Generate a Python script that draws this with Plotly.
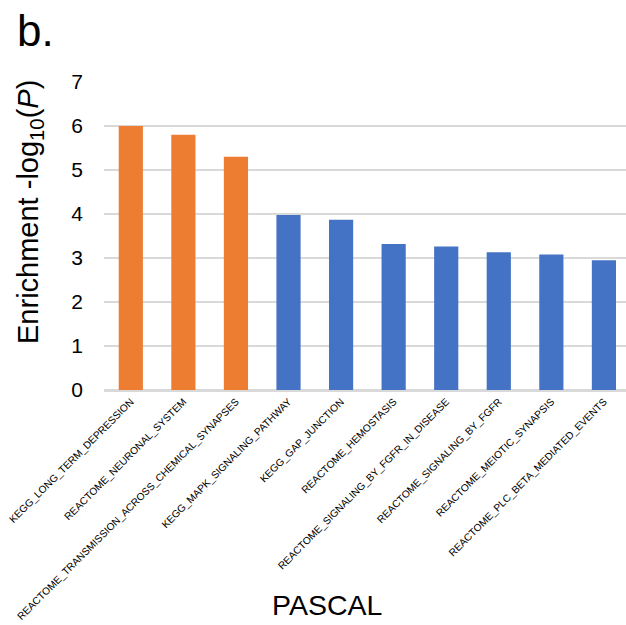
import plotly.graph_objects as go

categories = [
    "KEGG_LONG_TERM_DEPRESSION",
    "REACTOME_NEURONAL_SYSTEM",
    "REACTOME_TRANSMISSION_ACROSS_CHEMICAL_SYNAPSES",
    "KEGG_MAPK_SIGNALING_PATHWAY",
    "KEGG_GAP_JUNCTION",
    "REACTOME_HEMOSTASIS",
    "REACTOME_SIGNALING_BY_FGFR_IN_DISEASE",
    "REACTOME_SIGNALING_BY_FGFR",
    "REACTOME_MEIOTIC_SYNAPSIS",
    "REACTOME_PLC_BETA_MEDIATED_EVENTS",
]
values = [6.0, 5.8, 5.3, 3.98, 3.87, 3.32, 3.26, 3.13, 3.08, 2.95]
bar_colors = ["#ED7D31"] * 3 + ["#4472C4"] * 7
y_ticks = [0, 1, 2, 3, 4, 5, 6, 7]

FONT = "Liberation Sans, Arial, sans-serif"

W, H = 626, 625
L, R, T, B = 104, 0, 82, 235
PW, PH = W - L - R, H - T - B


def px_x(x):
    return (x - L) / PW


def px_y(y):
    return 1 - (y - T) / PH


fig = go.Figure(
    go.Bar(
        x=list(range(len(categories))),
        y=values,
        marker=dict(color=bar_colors, line=dict(width=0)),
        width=0.46,
    )
)

fig.update_layout(
    width=W,
    height=H,
    margin=dict(l=L, r=R, t=T, b=B, autoexpand=False),
    plot_bgcolor="white",
    paper_bgcolor="white",
    showlegend=False,
    font=dict(family=FONT, color="#000000"),
    xaxis=dict(
        range=[-0.51, 9.42],
        tickmode="array",
        tickvals=list(range(len(categories))),
        ticktext=categories,
        tickangle=-45,
        tickfont=dict(size=10.2, family=FONT, color="#000000"),
        ticklabeloverflow="allow",
        showgrid=False,
        showline=True,
        linecolor="#d9d9d9",
        linewidth=1.5,
        ticks="",
        zeroline=False,
        automargin=False,
    ),
    yaxis=dict(
        range=[0, 7],
        tickvals=y_ticks,
        tickfont=dict(size=21, family=FONT, color="#000000"),
        showgrid=True,
        gridcolor="#d9d9d9",
        gridwidth=1.5,
        zeroline=True,
        zerolinecolor="#d9d9d9",
        zerolinewidth=1.5,
        showline=False,
        ticks="",
        ticklabelstandoff=20,
        automargin=False,
    ),
    annotations=[
        dict(
            text="b.", x=px_x(15), y=px_y(4), xref="paper", yref="paper",
            showarrow=False, font=dict(size=44, family=FONT, color="#000000"),
            xanchor="left", yanchor="top",
        ),
        dict(
            text="Enrichment -log<sub>10</sub>(<i>P</i>)",
            x=px_x(30), y=px_y(212), xref="paper", yref="paper",
            showarrow=False, textangle=-90,
            font=dict(size=29, family=FONT, color="#000000"),
            xanchor="center", yanchor="middle",
        ),
        dict(
            text="PASCAL", x=px_x(327), y=px_y(605), xref="paper", yref="paper",
            showarrow=False,
            font=dict(size=28.5, family=FONT, color="#000000"),
            xanchor="center", yanchor="middle",
        ),
    ],
)

fig.write_html(
    "out.html",
    config={"displayModeBar": False},
    post_script="document.body.style.margin='0';document.body.style.overflow='hidden';",
)
